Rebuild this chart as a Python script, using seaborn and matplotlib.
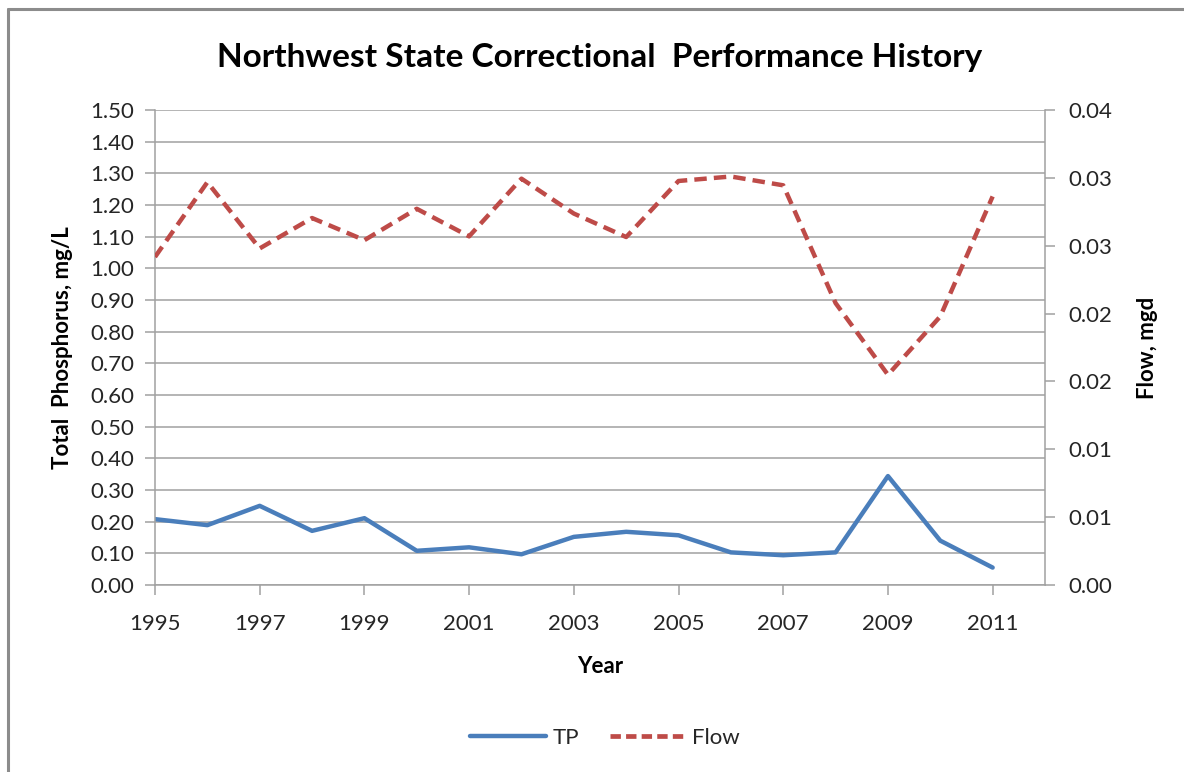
import matplotlib
matplotlib.use("Agg")
import matplotlib.pyplot as plt
from matplotlib.lines import Line2D
from matplotlib.ticker import FixedLocator, FixedFormatter
import seaborn as sns
import pandas as pd

years = [1995, 1996, 1997, 1998, 1999, 2000, 2001, 2002, 2003,
         2004, 2005, 2006, 2007, 2008, 2009, 2010, 2011]
tp = [0.208, 0.189, 0.250, 0.171, 0.211, 0.108, 0.119, 0.097, 0.152,
      0.168, 0.157, 0.103, 0.094, 0.103, 0.344, 0.140, 0.055]
flow = [0.02417, 0.02968, 0.02480, 0.02704, 0.02541, 0.02772, 0.02569, 0.02994, 0.02737,
        0.02564, 0.02977, 0.03010, 0.02945, 0.02077, 0.01549, 0.01979, 0.02863]

left_ticks = [0.0, 0.1, 0.2, 0.3, 0.4, 0.5, 0.6, 0.7, 0.8, 0.9, 1.0, 1.1, 1.2, 1.3, 1.4, 1.5]
right_ticks = [0.0, 0.005, 0.010, 0.015, 0.020, 0.025, 0.030, 0.035]
right_labels = ["0.00", "0.01", "0.01", "0.02", "0.02", "0.03", "0.03", "0.04"]
year_ticks = [1995, 1997, 1999, 2001, 2003, 2005, 2007, 2009, 2011]

df = pd.DataFrame({"Year": years, "TP": tp, "Flow": flow})

sns.set_theme(style="white")
plt.rcParams["font.family"] = ["Lato", "DejaVu Sans"]

blue = "#4A7EBB"
red = "#BE4B48"
grid_c = "#A0A0A0"
txt_c = "#262626"

fig = plt.figure(figsize=(11.84, 7.72), dpi=100)
ax = fig.add_axes([155 / 1184, 1 - 585 / 772, (1045 - 155) / 1184, (585 - 110) / 772])
ax2 = ax.twinx()

sns.lineplot(data=df, x="Year", y="TP", ax=ax, color=blue, linewidth=3.2, legend=False)
sns.lineplot(data=df, x="Year", y="Flow", ax=ax2, color=red, linewidth=3.2, legend=False)
ax2.lines[0].set_dashes((2.8, 1.6))
ax2.lines[0].set_dash_capstyle("butt")

ax.set_xlim(1995, 2012)
ax.set_ylim(0, 1.5)
ax2.set_ylim(0, 0.035)

ax.yaxis.set_major_locator(FixedLocator(left_ticks))
ax.set_yticklabels([f"{v:.2f}" for v in left_ticks])
ax.xaxis.set_major_locator(FixedLocator(year_ticks))
ax.set_xticklabels([str(y) for y in year_ticks])
ax2.yaxis.set_major_locator(FixedLocator(right_ticks))
ax2.yaxis.set_major_formatter(FixedFormatter(right_labels))

ax.grid(axis="y", color=grid_c, linewidth=1.1)
ax.grid(axis="x", visible=False)
ax2.grid(False)
ax.set_axisbelow(True)

for a in (ax, ax2):
    for s in a.spines.values():
        s.set_visible(False)
ax.spines["left"].set_visible(True)
ax.spines["bottom"].set_visible(True)
ax2.spines["right"].set_visible(True)
for s in (ax.spines["left"], ax.spines["bottom"], ax2.spines["right"]):
    s.set_color(grid_c)
    s.set_linewidth(1.1)

ax.tick_params(axis="both", which="major", direction="out", length=7, width=1.1,
               color=grid_c, labelsize=16, labelcolor=txt_c,
               left=True, bottom=True)
ax.tick_params(axis="y", pad=8)
ax.tick_params(axis="x", pad=14)
ax2.tick_params(axis="y", direction="out", length=7, width=1.1, color=grid_c,
                labelsize=16, labelcolor=txt_c, pad=10, right=True)

ax.set_xlabel("Year", fontsize=16, fontweight="bold", labelpad=16, color="black")
ax.set_ylabel("Total  Phosphorus, mg/L", fontsize=16, fontweight="bold", labelpad=12, color="black")
ax2.set_ylabel("Flow, mgd", fontsize=16, fontweight="bold", labelpad=18, color="black")

fig.text(600 / 1184, 1 - 57 / 772, "Northwest State Correctional  Performance History",
         ha="center", va="center", fontsize=24, fontweight="bold", color="black")

handles = [Line2D([], [], color=blue, linewidth=3.2),
           Line2D([], [], color=red, linewidth=3.4, dashes=(2.2, 1.1))]
fig.legend(handles, ["TP", "Flow"], loc="center", bbox_to_anchor=(605 / 1184, 1 - 738 / 772),
           ncol=2, frameon=False, fontsize=16, handlelength=3.4, handletextpad=0.3,
           columnspacing=1.4, labelcolor=txt_c)

# outer chart border (left and top edges visible)
fig.add_artist(Line2D([8 / 1184, 8 / 1184], [0, 1 - 9 / 772], transform=fig.transFigure,
                      color="#8C8C8C", linewidth=2.2))
fig.add_artist(Line2D([8 / 1184, 1], [1 - 9 / 772, 1 - 9 / 772], transform=fig.transFigure,
                      color="#8C8C8C", linewidth=2.2))

fig.savefig("out.png", dpi=100, facecolor="white")
